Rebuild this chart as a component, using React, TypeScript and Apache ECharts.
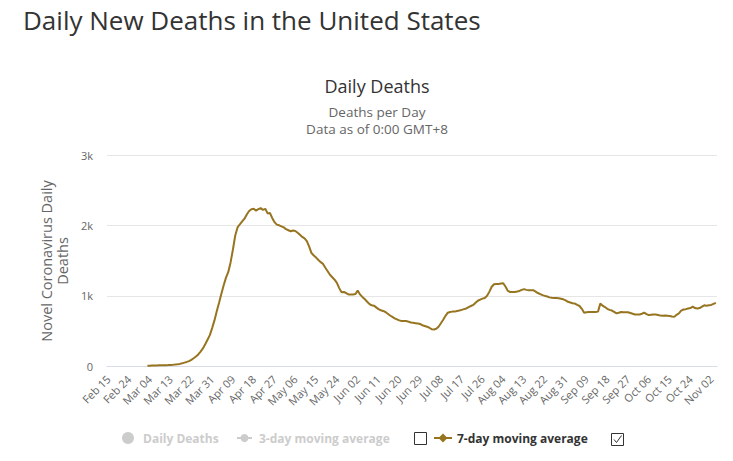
import React, { useEffect, useRef } from "react";
import * as echarts from "echarts";

// Daily categories run from Feb 15, 2020 through Nov 04, 2020
const START_DATE_UTC = Date.UTC(2020, 1, 15);
const DAY_COUNT = 264;
// The 7-day average begins on Mar 03 (day 17 of the axis)
const FIRST_VALUE_DAY = 17;
const MONTHS = ["Jan", "Feb", "Mar", "Apr", "May", "Jun", "Jul", "Aug", "Sep", "Oct", "Nov", "Dec"];

// 7-day moving average of new deaths, Mar 03 .. Nov 04
const sevenDayAvg = [
  5, 5, 6, 7, 8, 9, 10, 11, 12, 13, 15, 17, 20, 24, 30, 38, 48, 58, 70, 88,
  110, 135, 165, 205, 250, 310, 375, 440, 540, 650, 780, 900, 1030, 1150, 1260, 1340, 1480, 1660, 1860, 1975,
  2020, 2060, 2100, 2160, 2210, 2235, 2240, 2215, 2235, 2250, 2225, 2240, 2175, 2180, 2110, 2050, 2015, 2005, 1990, 1975,
  1950, 1935, 1920, 1930, 1925, 1900, 1870, 1840, 1820, 1780, 1700, 1610, 1575, 1545, 1510, 1480, 1455, 1400, 1350, 1300,
  1265, 1230, 1185, 1110, 1050, 1055, 1040, 1020, 1020, 1020, 1025, 1075, 1020, 985, 955, 920, 885, 865, 860, 835,
  810, 795, 785, 770, 745, 720, 700, 680, 665, 650, 642, 640, 640, 632, 620, 615, 610, 605, 600, 580,
  570, 560, 545, 525, 520, 530, 560, 610, 660, 715, 760, 770, 775, 775, 785, 790, 800, 810, 820, 840,
  855, 870, 900, 930, 945, 960, 970, 1000, 1060, 1130, 1165, 1170, 1170, 1175, 1180, 1130, 1070, 1055, 1055, 1055,
  1062, 1070, 1085, 1095, 1085, 1080, 1080, 1080, 1060, 1040, 1025, 1010, 1000, 990, 978, 972, 970, 970, 965, 958,
  950, 935, 915, 905, 895, 890, 870, 855, 815, 760, 765, 768, 770, 770, 770, 775, 890, 860, 840, 815,
  800, 790, 770, 750, 760, 770, 765, 765, 765, 755, 745, 735, 735, 735, 745, 760, 740, 725, 730, 735,
  735, 728, 718, 715, 718, 715, 712, 705, 700, 730, 750, 790, 805, 810, 820, 825, 845, 825, 820, 825,
  845, 865, 860, 865, 870, 885, 900,
];

const yTickValues = [0, 1000, 2000, 3000];
const legendNames = ["Daily Deaths", "3-day moving average", "7-day moving average"];

const LINE_COLOR = "#977420";
const MUTED = "#cccccc";
const FONT = '"Open Sans", "Noto Sans", sans-serif';

function dayLabel(i: number): string {
  const d = new Date(START_DATE_UTC + i * 86400000);
  const dd = d.getUTCDate();
  return MONTHS[d.getUTCMonth()] + " " + (dd < 10 ? "0" + dd : String(dd));
}

const categories: string[] = [];
for (let i = 0; i < DAY_COUNT; i++) categories.push(dayLabel(i));

const seriesData: (number | null)[] = [];
for (let i = 0; i < DAY_COUNT; i++) {
  const k = i - FIRST_VALUE_DAY;
  seriesData.push(k >= 0 && k < sevenDayAvg.length ? sevenDayAvg[k] : null);
}

export default function App() {
  const ref = useRef<HTMLDivElement>(null);

  useEffect(() => {
    if (!ref.current) return;
    const chart = echarts.init(ref.current, undefined, { renderer: "svg" });
    const legendY = 438;
    chart.setOption({
      animation: false,
      backgroundColor: "#ffffff",
      textStyle: { fontFamily: FONT },
      grid: { left: 107, top: 155.5, width: 610, height: 210.5, containLabel: false },
      xAxis: {
        type: "category",
        data: categories,
        boundaryGap: true,
        axisLine: { show: true, lineStyle: { color: "#d8dce6", width: 1 } },
        axisTick: { show: false },
        axisLabel: {
          interval: 8,
          rotate: 45,
          margin: 11,
          color: "#666666",
          fontSize: 11,
          fontFamily: FONT,
        },
        splitLine: { show: false },
      },
      yAxis: {
        type: "value",
        min: yTickValues[0],
        max: yTickValues[yTickValues.length - 1],
        interval: 1000,
        axisLine: { show: false },
        axisTick: { show: false },
        axisLabel: {
          margin: 14,
          color: "#666666",
          fontSize: 11,
          fontFamily: FONT,
          formatter: (v: number) => (v === 0 ? "0" : v / 1000 + "k"),
        },
        splitLine: { show: true, lineStyle: { color: "#e6e6e6", width: 1 } },
      },
      series: [
        {
          name: legendNames[2],
          type: "line",
          data: seriesData,
          showSymbol: false,
          connectNulls: false,
          lineStyle: { color: LINE_COLOR, width: 2 },
          itemStyle: { color: LINE_COLOR },
        },
      ],
      graphic: [
        {
          type: "text",
          left: 23,
          top: 7,
          style: { text: "Daily New Deaths in the United States", font: "26px " + FONT, fill: "#333333" },
        },
        {
          type: "text",
          x: 377,
          y: 86,
          style: { text: "Daily Deaths", font: "18px " + FONT, fill: "#333333", align: "center", verticalAlign: "middle" },
        },
        {
          type: "text",
          x: 377,
          y: 112,
          style: { text: "Deaths per Day", font: "13.5px " + FONT, fill: "#666666", align: "center", verticalAlign: "middle" },
        },
        {
          type: "text",
          x: 377,
          y: 128.5,
          style: { text: "Data as of 0:00 GMT+8", font: "13.5px " + FONT, fill: "#666666", align: "center", verticalAlign: "middle" },
        },
        {
          type: "text",
          x: 46,
          y: 261,
          rotation: Math.PI / 2,
          style: { text: "Novel Coronavirus Daily", font: "14.5px " + FONT, fill: "#666666", align: "center", verticalAlign: "middle" },
        },
        {
          type: "text",
          x: 62,
          y: 261,
          rotation: Math.PI / 2,
          style: { text: "Deaths", font: "14.5px " + FONT, fill: "#666666", align: "center", verticalAlign: "middle" },
        },
        // legend: Daily Deaths (hidden)
        { type: "circle", shape: { cx: 128, cy: legendY, r: 6 }, style: { fill: MUTED } },
        {
          type: "text",
          x: 143,
          y: legendY,
          style: { text: legendNames[0], font: "bold 12px " + FONT, fill: MUTED, verticalAlign: "middle" },
        },
        // legend: 3-day moving average (hidden)
        { type: "line", shape: { x1: 237, y1: legendY, x2: 252, y2: legendY }, style: { stroke: MUTED, lineWidth: 2 } },
        { type: "circle", shape: { cx: 244.5, cy: legendY, r: 4 }, style: { fill: MUTED } },
        {
          type: "text",
          x: 259,
          y: legendY,
          style: { text: legendNames[1], font: "bold 12px " + FONT, fill: MUTED, verticalAlign: "middle" },
        },
        {
          type: "rect",
          shape: { x: 414.5, y: 432.5, width: 12, height: 12 },
          style: { fill: "#ffffff", stroke: "#333333", lineWidth: 1 },
        },
        // legend: 7-day moving average (shown)
        { type: "line", shape: { x1: 434, y1: legendY, x2: 452, y2: legendY }, style: { stroke: LINE_COLOR, lineWidth: 2 } },
        {
          type: "polygon",
          shape: { points: [[443, legendY - 4.5], [447.5, legendY], [443, legendY + 4.5], [438.5, legendY]] },
          style: { fill: LINE_COLOR },
        },
        {
          type: "text",
          x: 457,
          y: legendY,
          style: { text: legendNames[2], font: "bold 12px " + FONT, fill: "#333333", verticalAlign: "middle" },
        },
        {
          type: "rect",
          shape: { x: 611.5, y: 433.5, width: 12, height: 12 },
          style: { fill: "#ffffff", stroke: "#333333", lineWidth: 1 },
        },
        {
          type: "polyline",
          shape: { points: [[614, 439.5], [616.5, 442.5], [621.5, 435.5]] },
          style: { stroke: "#333333", lineWidth: 1, fill: "none" },
        },
      ],
    });
    return () => chart.dispose();
  }, []);

  return (
    <div
      ref={ref}
      style={{ position: "fixed", left: 0, top: 0, width: 733, height: 461, background: "#ffffff" }}
    />
  );
}
